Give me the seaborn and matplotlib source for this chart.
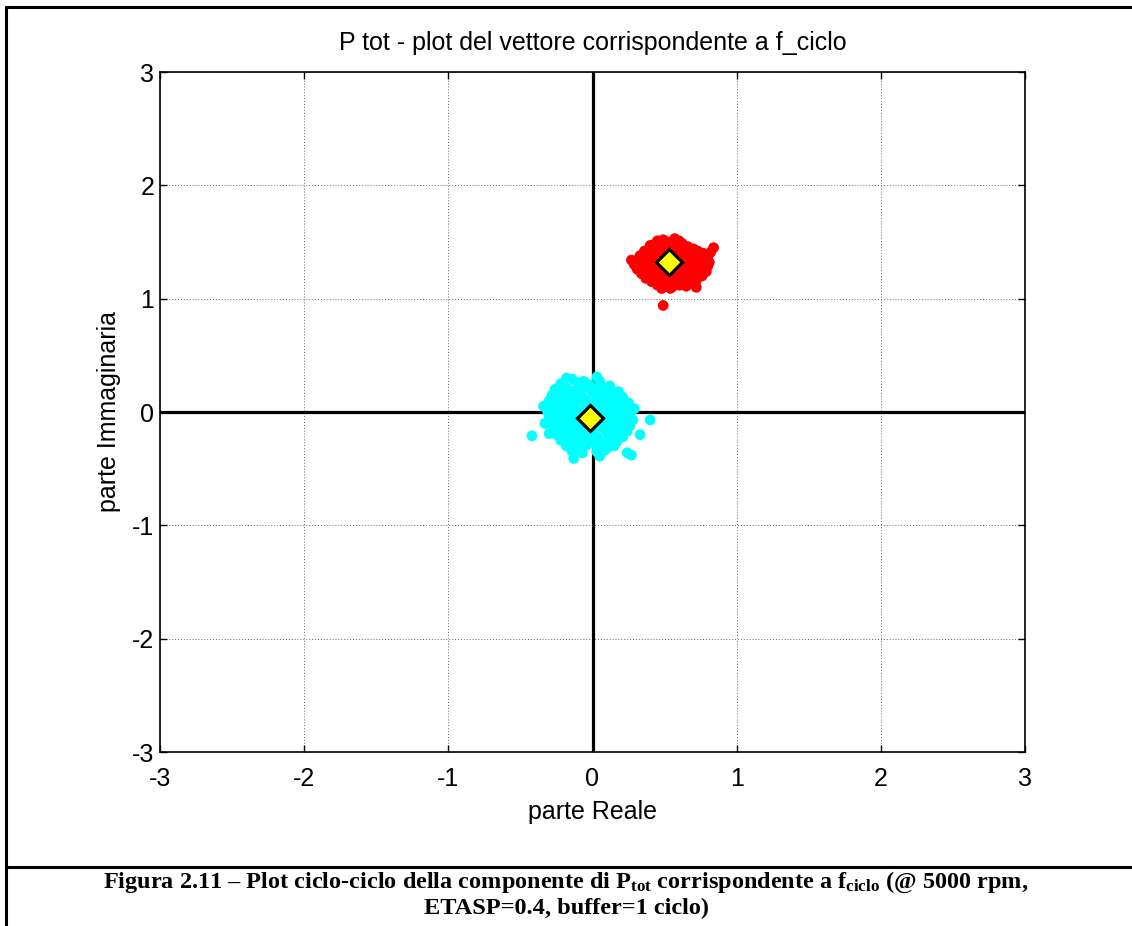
import matplotlib
matplotlib.use("Agg")
import matplotlib.pyplot as plt
import seaborn as sns
import pandas as pd
from matplotlib.lines import Line2D

# ---- data ----
red_x = [0.45, 0.52, 0.57, 0.62, 0.49, 0.60,
         0.40, 0.47, 0.51, 0.55, 0.60, 0.66, 0.84, 0.70, 0.43,
         0.36, 0.42, 0.48, 0.53, 0.58, 0.63, 0.68, 0.73, 0.82, 0.77,
         0.33, 0.38, 0.44, 0.49, 0.55, 0.61, 0.65, 0.70, 0.75, 0.80,
         0.27, 0.32, 0.37, 0.42, 0.47, 0.52, 0.58, 0.62, 0.67, 0.72, 0.77, 0.81,
         0.29, 0.35, 0.40, 0.45, 0.50, 0.56, 0.61, 0.66, 0.71, 0.76, 0.80,
         0.31, 0.38, 0.43, 0.48, 0.54, 0.59, 0.64, 0.69, 0.74, 0.79, 0.35,
         0.34, 0.41, 0.46, 0.52, 0.57, 0.62, 0.67, 0.72, 0.76,
         0.37, 0.43, 0.48, 0.53, 0.58, 0.63, 0.68, 0.72,
         0.41, 0.46, 0.51, 0.56, 0.61, 0.66, 0.70,
         0.45, 0.50, 0.55, 0.60, 0.65, 0.48,
         0.72, 0.54, 0.49]
red_y = [1.51, 1.50, 1.53, 1.49, 1.52, 1.51,
         1.47, 1.46, 1.48, 1.45, 1.47, 1.46, 1.45, 1.44, 1.48,
         1.42, 1.43, 1.41, 1.44, 1.42, 1.43, 1.41, 1.42, 1.41, 1.40,
         1.38, 1.39, 1.37, 1.38, 1.40, 1.37, 1.38, 1.36, 1.38, 1.37,
         1.34, 1.35, 1.33, 1.34, 1.35, 1.33, 1.34, 1.32, 1.35, 1.33, 1.34, 1.32,
         1.30, 1.29, 1.31, 1.30, 1.28, 1.31, 1.29, 1.30, 1.28, 1.31, 1.29,
         1.26, 1.25, 1.27, 1.25, 1.26, 1.24, 1.27, 1.25, 1.26, 1.24, 1.23,
         1.22, 1.21, 1.23, 1.20, 1.22, 1.21, 1.23, 1.22, 1.20,
         1.18, 1.17, 1.19, 1.16, 1.18, 1.17, 1.19, 1.16,
         1.15, 1.14, 1.13, 1.15, 1.12, 1.14, 1.13,
         1.12, 1.11, 1.10, 1.12, 1.11, 1.09,
         1.10, 1.09, 0.94]

cyan_x = [-0.18, -0.14, 0.03, -0.06,
          -0.22, -0.10, -0.02, 0.05, 0.12,
          -0.26, -0.18, -0.12, -0.05, 0.02, 0.08, 0.12, 0.18,
          -0.28, -0.20, -0.14, -0.08, 0.00, 0.06, 0.11, 0.16, 0.21,
          -0.30, -0.24, -0.17, -0.10, -0.04, 0.03, 0.09, 0.14, 0.20, 0.25,
          -0.34, -0.27, -0.20, -0.13, -0.06, 0.01, 0.07, 0.13, 0.19, 0.24, 0.29,
          -0.31, -0.25, -0.18, -0.11, -0.05, 0.04, 0.10, 0.16, 0.22, 0.27,
          -0.30, -0.23, -0.16, -0.09, 0.06, 0.12, 0.18, 0.23, 0.28,
          -0.33, -0.26, -0.19, -0.12, -0.06, 0.02, 0.08, 0.14, 0.21, 0.26,
          -0.28, -0.21, -0.14, -0.07, 0.00, 0.07, 0.13, 0.19, 0.24,
          -0.25, -0.18, -0.11, -0.04, 0.03, 0.10, 0.16, 0.21,
          -0.22, -0.15, -0.08, -0.01, 0.06, 0.12, 0.17,
          -0.18, -0.11, -0.04, 0.03, 0.10, 0.15,
          -0.14, -0.07, 0.03, 0.08, 0.24,
          -0.13, 0.05, 0.27,
          -0.42, 0.40, 0.33, -0.30]
cyan_y = [0.30, 0.29, 0.31, 0.27,
          0.25, 0.26, 0.24, 0.27, 0.23,
          0.20, 0.21, 0.19, 0.22, 0.20, 0.21, 0.19, 0.18,
          0.15, 0.16, 0.14, 0.15, 0.17, 0.14, 0.16, 0.15, 0.13,
          0.10, 0.11, 0.09, 0.12, 0.10, 0.11, 0.09, 0.10, 0.11, 0.08,
          0.05, 0.06, 0.04, 0.05, 0.07, 0.05, 0.04, 0.06, 0.05, 0.04, 0.03,
          0.00, 0.01, -0.01, 0.00, 0.02, -0.01, 0.01, 0.00, -0.02, 0.01,
          -0.05, -0.04, -0.06, -0.05, -0.04, -0.06, -0.05, -0.04, -0.07,
          -0.10, -0.09, -0.11, -0.10, -0.12, -0.09, -0.10, -0.11, -0.09, -0.12,
          -0.15, -0.14, -0.16, -0.15, -0.17, -0.14, -0.15, -0.16, -0.17,
          -0.20, -0.21, -0.19, -0.20, -0.22, -0.19, -0.21, -0.22,
          -0.25, -0.26, -0.24, -0.25, -0.27, -0.25, -0.26,
          -0.30, -0.31, -0.29, -0.30, -0.32, -0.30,
          -0.35, -0.36, -0.35, -0.34, -0.36,
          -0.41, -0.39, -0.38,
          -0.21, -0.07, -0.20, -0.19]

mean_x = [0.53, -0.02]
mean_y = [1.32, -0.05]

ticks = [-3, -2, -1, 0, 1, 2, 3]
title = "P tot - plot del vettore corrispondente a f_ciclo"
xlabel = "parte Reale"
ylabel = "parte Immaginaria"
caption1 = r"Figura 2.11 – Plot ciclo-ciclo della componente di P$_{\mathrm{tot}}$ corrispondente a f$_{\mathrm{ciclo}}$ (@ 5000 rpm,"
caption2 = "ETASP=0.4, buffer=1 ciclo)"

# ---- styling ----
sns.set_theme(style="white")
plt.rcParams["font.family"] = ["Liberation Sans", "DejaVu Sans"]
plt.rcParams["text.color"] = "black"
plt.rcParams["axes.labelcolor"] = "black"
plt.rcParams["xtick.color"] = "black"
plt.rcParams["ytick.color"] = "black"
plt.rcParams["mathtext.fontset"] = "custom"
plt.rcParams["mathtext.rm"] = "Liberation Serif:bold"
plt.rcParams["mathtext.it"] = "Liberation Serif:bold"
plt.rcParams["mathtext.bf"] = "Liberation Serif:bold"

fig = plt.figure(figsize=(11.32, 9.26), dpi=100)
ax = fig.add_axes([160 / 1132, 1 - 752 / 926, 865 / 1132, 680 / 926])

ax.grid(True, color="#666666", linestyle=(0, (1, 2)), linewidth=0.7)
ax.set_axisbelow(True)

ax.axhline(0, color="black", lw=2.3, zorder=1.5)
ax.axvline(0, color="black", lw=2.3, zorder=1.5)

red_df = pd.DataFrame({"x": red_x, "y": red_y})
cyan_df = pd.DataFrame({"x": cyan_x, "y": cyan_y})
sns.scatterplot(data=red_df, x="x", y="y", ax=ax, color="#ff0000", s=60,
                edgecolor="none", zorder=2)
sns.scatterplot(data=cyan_df, x="x", y="y", ax=ax, color="#00ffff", s=60,
                edgecolor="none", zorder=2)
ax.plot(mean_x, mean_y, linestyle="none", marker="D", markersize=13,
        markerfacecolor="#ffff00", markeredgecolor="black",
        markeredgewidth=2.3, zorder=3)

ax.set_xlim(-3, 3)
ax.set_ylim(-3, 3)
ax.set_xticks(ticks)
ax.set_yticks(ticks)
ax.set_xticklabels([str(t) for t in ticks])
ax.set_yticklabels([str(t) for t in ticks])
ax.tick_params(direction="in", length=5, width=1, labelsize=18,
               top=True, right=True, bottom=True, left=True, pad=4,
               colors="black")
ax.tick_params(axis="x", pad=11)
for sp in ax.spines.values():
    sp.set_visible(True)
    sp.set_color("black")
    sp.set_linewidth(1.2)

ax.set_title(title, fontsize=18, pad=16, color="black")
ax.set_xlabel(xlabel, fontsize=18, labelpad=6)
ax.set_ylabel(ylabel, fontsize=18, labelpad=8)

# ---- outer frame & caption ----
W, H = 1132, 926
fig.add_artist(Line2D([6 / W, 1], [1 - 7 / H, 1 - 7 / H], color="black", lw=2.2))
fig.add_artist(Line2D([6 / W, 6 / W], [0, 1 - 7 / H], color="black", lw=2.2))
fig.add_artist(Line2D([6 / W, 1], [1 - 867 / H, 1 - 867 / H], color="black", lw=2.2))

fig.text(0.5, 1 - 882 / H, caption1, ha="center", va="center",
         family="Liberation Serif", weight="bold", fontsize=17.5)
fig.text(0.5, 1 - 908 / H, caption2, ha="center", va="center",
         family="Liberation Serif", weight="bold", fontsize=17.5)

fig.savefig("out.png", dpi=100, facecolor="white")
